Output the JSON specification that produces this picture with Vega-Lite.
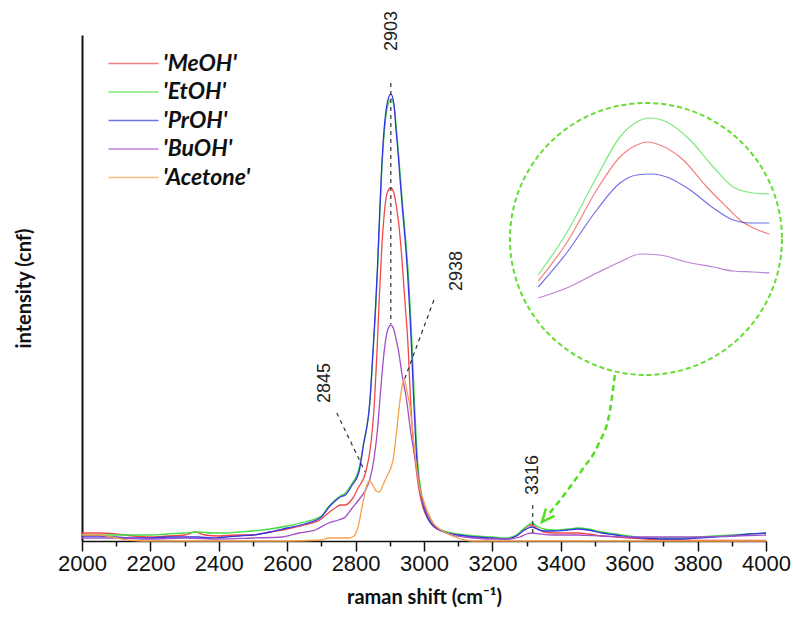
{
  "$schema": "https://vega.github.io/schema/vega-lite/v6.json",
  "width": 684,
  "height": 506,
  "autosize": {"type": "none"},
  "padding": {"left": 82, "top": 35, "right": 27, "bottom": 84},
  "background": "white",
  "config": {"view": {"stroke": null}, "font": "Liberation Sans"},
  "resolve": {"axis": {"x": "independent"}},
  "datasets": {
    "spectra": [
      {"s":"'MeOH'","x":2000,"y":8},{"s":"'MeOH'","x":2050,"y":8},{"s":"'MeOH'","x":2100,"y":7},{"s":"'MeOH'","x":2150,"y":5},{"s":"'MeOH'","x":2200,"y":4},{"s":"'MeOH'","x":2250,"y":5},{"s":"'MeOH'","x":2300,"y":6},{"s":"'MeOH'","x":2330,"y":9},{"s":"'MeOH'","x":2360,"y":6},{"s":"'MeOH'","x":2400,"y":5},{"s":"'MeOH'","x":2450,"y":6},{"s":"'MeOH'","x":2500,"y":6},{"s":"'MeOH'","x":2550,"y":9},{"s":"'MeOH'","x":2600,"y":12},{"s":"'MeOH'","x":2650,"y":16},{"s":"'MeOH'","x":2700,"y":22},{"s":"'MeOH'","x":2720,"y":28},{"s":"'MeOH'","x":2740,"y":33},{"s":"'MeOH'","x":2755,"y":36},{"s":"'MeOH'","x":2770,"y":36},{"s":"'MeOH'","x":2790,"y":42},{"s":"'MeOH'","x":2809,"y":54},{"s":"'MeOH'","x":2829,"y":68},{"s":"'MeOH'","x":2845,"y":98},{"s":"'MeOH'","x":2855,"y":138},{"s":"'MeOH'","x":2862,"y":185},{"s":"'MeOH'","x":2869,"y":241},{"s":"'MeOH'","x":2876,"y":290},{"s":"'MeOH'","x":2884,"y":328},{"s":"'MeOH'","x":2893,"y":349},{"s":"'MeOH'","x":2903,"y":353},{"s":"'MeOH'","x":2912,"y":348},{"s":"'MeOH'","x":2920,"y":333},{"s":"'MeOH'","x":2926,"y":318},{"s":"'MeOH'","x":2934,"y":288},{"s":"'MeOH'","x":2944,"y":241},{"s":"'MeOH'","x":2954,"y":191},{"s":"'MeOH'","x":2960,"y":145},{"s":"'MeOH'","x":2966,"y":112},{"s":"'MeOH'","x":2975,"y":78},{"s":"'MeOH'","x":2985,"y":52},{"s":"'MeOH'","x":2995,"y":36},{"s":"'MeOH'","x":3010,"y":23},{"s":"'MeOH'","x":3030,"y":14},{"s":"'MeOH'","x":3060,"y":9},{"s":"'MeOH'","x":3100,"y":6},{"s":"'MeOH'","x":3150,"y":4},{"s":"'MeOH'","x":3200,"y":3},{"s":"'MeOH'","x":3240,"y":2},{"s":"'MeOH'","x":3270,"y":5},{"s":"'MeOH'","x":3290,"y":11},{"s":"'MeOH'","x":3305,"y":15},{"s":"'MeOH'","x":3316,"y":16},{"s":"'MeOH'","x":3330,"y":13},{"s":"'MeOH'","x":3350,"y":9},{"s":"'MeOH'","x":3380,"y":8},{"s":"'MeOH'","x":3420,"y":8},{"s":"'MeOH'","x":3450,"y":8},{"s":"'MeOH'","x":3480,"y":7},{"s":"'MeOH'","x":3520,"y":5},{"s":"'MeOH'","x":3560,"y":4},{"s":"'MeOH'","x":3600,"y":3},{"s":"'MeOH'","x":3650,"y":2},{"s":"'MeOH'","x":3700,"y":1},{"s":"'MeOH'","x":3750,"y":1},{"s":"'MeOH'","x":3800,"y":0.5},{"s":"'MeOH'","x":3900,"y":0.5},{"s":"'MeOH'","x":4000,"y":0.5},
      {"s":"'EtOH'","x":2000,"y":6},{"s":"'EtOH'","x":2050,"y":6},{"s":"'EtOH'","x":2100,"y":6},{"s":"'EtOH'","x":2150,"y":6},{"s":"'EtOH'","x":2200,"y":6},{"s":"'EtOH'","x":2250,"y":7},{"s":"'EtOH'","x":2300,"y":8},{"s":"'EtOH'","x":2340,"y":9},{"s":"'EtOH'","x":2380,"y":8},{"s":"'EtOH'","x":2420,"y":8},{"s":"'EtOH'","x":2460,"y":9},{"s":"'EtOH'","x":2500,"y":10},{"s":"'EtOH'","x":2550,"y":12},{"s":"'EtOH'","x":2600,"y":15},{"s":"'EtOH'","x":2650,"y":19},{"s":"'EtOH'","x":2700,"y":25},{"s":"'EtOH'","x":2720,"y":34},{"s":"'EtOH'","x":2740,"y":41},{"s":"'EtOH'","x":2755,"y":45},{"s":"'EtOH'","x":2770,"y":48},{"s":"'EtOH'","x":2790,"y":58},{"s":"'EtOH'","x":2809,"y":71},{"s":"'EtOH'","x":2823,"y":97},{"s":"'EtOH'","x":2842,"y":140},{"s":"'EtOH'","x":2851,"y":188},{"s":"'EtOH'","x":2858,"y":228},{"s":"'EtOH'","x":2864,"y":270},{"s":"'EtOH'","x":2870,"y":320},{"s":"'EtOH'","x":2876,"y":366},{"s":"'EtOH'","x":2883,"y":405},{"s":"'EtOH'","x":2892,"y":432},{"s":"'EtOH'","x":2904,"y":442},{"s":"'EtOH'","x":2913,"y":434},{"s":"'EtOH'","x":2920,"y":410},{"s":"'EtOH'","x":2926,"y":385},{"s":"'EtOH'","x":2932,"y":360},{"s":"'EtOH'","x":2938,"y":335},{"s":"'EtOH'","x":2947,"y":300},{"s":"'EtOH'","x":2954,"y":268},{"s":"'EtOH'","x":2960,"y":232},{"s":"'EtOH'","x":2966,"y":190},{"s":"'EtOH'","x":2972,"y":140},{"s":"'EtOH'","x":2977,"y":105},{"s":"'EtOH'","x":2982,"y":77},{"s":"'EtOH'","x":2992,"y":49},{"s":"'EtOH'","x":3002,"y":34},{"s":"'EtOH'","x":3017,"y":21},{"s":"'EtOH'","x":3040,"y":13},{"s":"'EtOH'","x":3070,"y":9},{"s":"'EtOH'","x":3100,"y":7},{"s":"'EtOH'","x":3150,"y":5},{"s":"'EtOH'","x":3200,"y":4},{"s":"'EtOH'","x":3240,"y":3},{"s":"'EtOH'","x":3270,"y":6},{"s":"'EtOH'","x":3290,"y":12},{"s":"'EtOH'","x":3305,"y":16},{"s":"'EtOH'","x":3316,"y":18},{"s":"'EtOH'","x":3330,"y":15},{"s":"'EtOH'","x":3350,"y":12},{"s":"'EtOH'","x":3380,"y":11},{"s":"'EtOH'","x":3420,"y":12},{"s":"'EtOH'","x":3450,"y":13},{"s":"'EtOH'","x":3480,"y":12},{"s":"'EtOH'","x":3520,"y":9},{"s":"'EtOH'","x":3560,"y":7},{"s":"'EtOH'","x":3600,"y":5},{"s":"'EtOH'","x":3650,"y":3},{"s":"'EtOH'","x":3700,"y":3},{"s":"'EtOH'","x":3750,"y":3},{"s":"'EtOH'","x":3800,"y":4},{"s":"'EtOH'","x":3850,"y":5},{"s":"'EtOH'","x":3900,"y":6},{"s":"'EtOH'","x":3950,"y":7},{"s":"'EtOH'","x":4000,"y":8},
      {"s":"'PrOH'","x":2000,"y":5},{"s":"'PrOH'","x":2050,"y":5},{"s":"'PrOH'","x":2100,"y":4},{"s":"'PrOH'","x":2150,"y":3},{"s":"'PrOH'","x":2200,"y":3},{"s":"'PrOH'","x":2250,"y":4},{"s":"'PrOH'","x":2300,"y":4},{"s":"'PrOH'","x":2340,"y":4},{"s":"'PrOH'","x":2380,"y":3},{"s":"'PrOH'","x":2420,"y":4},{"s":"'PrOH'","x":2460,"y":5},{"s":"'PrOH'","x":2500,"y":6},{"s":"'PrOH'","x":2550,"y":9},{"s":"'PrOH'","x":2600,"y":13},{"s":"'PrOH'","x":2650,"y":17},{"s":"'PrOH'","x":2700,"y":24},{"s":"'PrOH'","x":2720,"y":33},{"s":"'PrOH'","x":2740,"y":40},{"s":"'PrOH'","x":2755,"y":44},{"s":"'PrOH'","x":2770,"y":46},{"s":"'PrOH'","x":2790,"y":56},{"s":"'PrOH'","x":2809,"y":68},{"s":"'PrOH'","x":2823,"y":96},{"s":"'PrOH'","x":2842,"y":141},{"s":"'PrOH'","x":2851,"y":191},{"s":"'PrOH'","x":2858,"y":232},{"s":"'PrOH'","x":2864,"y":274},{"s":"'PrOH'","x":2870,"y":325},{"s":"'PrOH'","x":2876,"y":372},{"s":"'PrOH'","x":2883,"y":410},{"s":"'PrOH'","x":2892,"y":437},{"s":"'PrOH'","x":2903,"y":447},{"s":"'PrOH'","x":2912,"y":437},{"s":"'PrOH'","x":2918,"y":412},{"s":"'PrOH'","x":2925,"y":385},{"s":"'PrOH'","x":2930,"y":362},{"s":"'PrOH'","x":2936,"y":336},{"s":"'PrOH'","x":2945,"y":300},{"s":"'PrOH'","x":2952,"y":268},{"s":"'PrOH'","x":2958,"y":232},{"s":"'PrOH'","x":2964,"y":190},{"s":"'PrOH'","x":2970,"y":140},{"s":"'PrOH'","x":2975,"y":105},{"s":"'PrOH'","x":2980,"y":76},{"s":"'PrOH'","x":2990,"y":48},{"s":"'PrOH'","x":3000,"y":33},{"s":"'PrOH'","x":3015,"y":20},{"s":"'PrOH'","x":3040,"y":12},{"s":"'PrOH'","x":3070,"y":8},{"s":"'PrOH'","x":3100,"y":6},{"s":"'PrOH'","x":3150,"y":4},{"s":"'PrOH'","x":3200,"y":3},{"s":"'PrOH'","x":3240,"y":2},{"s":"'PrOH'","x":3270,"y":5},{"s":"'PrOH'","x":3290,"y":10},{"s":"'PrOH'","x":3305,"y":13},{"s":"'PrOH'","x":3316,"y":14},{"s":"'PrOH'","x":3330,"y":12},{"s":"'PrOH'","x":3350,"y":10},{"s":"'PrOH'","x":3380,"y":10},{"s":"'PrOH'","x":3420,"y":11},{"s":"'PrOH'","x":3450,"y":12},{"s":"'PrOH'","x":3480,"y":11},{"s":"'PrOH'","x":3520,"y":8},{"s":"'PrOH'","x":3560,"y":6},{"s":"'PrOH'","x":3600,"y":4},{"s":"'PrOH'","x":3650,"y":3},{"s":"'PrOH'","x":3700,"y":2},{"s":"'PrOH'","x":3750,"y":2},{"s":"'PrOH'","x":3800,"y":3},{"s":"'PrOH'","x":3850,"y":4},{"s":"'PrOH'","x":3900,"y":5},{"s":"'PrOH'","x":3950,"y":7},{"s":"'PrOH'","x":4000,"y":8},
      {"s":"'BuOH'","x":2000,"y":3},{"s":"'BuOH'","x":2100,"y":3},{"s":"'BuOH'","x":2200,"y":2},{"s":"'BuOH'","x":2300,"y":3},{"s":"'BuOH'","x":2400,"y":2},{"s":"'BuOH'","x":2500,"y":3},{"s":"'BuOH'","x":2585,"y":4},{"s":"'BuOH'","x":2634,"y":8},{"s":"'BuOH'","x":2682,"y":11},{"s":"'BuOH'","x":2721,"y":18},{"s":"'BuOH'","x":2750,"y":21},{"s":"'BuOH'","x":2770,"y":24},{"s":"'BuOH'","x":2790,"y":33},{"s":"'BuOH'","x":2809,"y":41},{"s":"'BuOH'","x":2829,"y":51},{"s":"'BuOH'","x":2842,"y":62},{"s":"'BuOH'","x":2855,"y":85},{"s":"'BuOH'","x":2865,"y":115},{"s":"'BuOH'","x":2871,"y":141},{"s":"'BuOH'","x":2878,"y":170},{"s":"'BuOH'","x":2884,"y":191},{"s":"'BuOH'","x":2893,"y":210},{"s":"'BuOH'","x":2903,"y":216},{"s":"'BuOH'","x":2913,"y":210},{"s":"'BuOH'","x":2920,"y":199},{"s":"'BuOH'","x":2925,"y":191},{"s":"'BuOH'","x":2935,"y":168},{"s":"'BuOH'","x":2949,"y":141},{"s":"'BuOH'","x":2960,"y":112},{"s":"'BuOH'","x":2970,"y":90},{"s":"'BuOH'","x":2978,"y":74},{"s":"'BuOH'","x":2990,"y":48},{"s":"'BuOH'","x":3008,"y":28},{"s":"'BuOH'","x":3030,"y":16},{"s":"'BuOH'","x":3047,"y":11},{"s":"'BuOH'","x":3080,"y":6},{"s":"'BuOH'","x":3120,"y":4},{"s":"'BuOH'","x":3200,"y":2},{"s":"'BuOH'","x":3250,"y":2},{"s":"'BuOH'","x":3280,"y":4},{"s":"'BuOH'","x":3300,"y":7},{"s":"'BuOH'","x":3316,"y":8},{"s":"'BuOH'","x":3340,"y":7},{"s":"'BuOH'","x":3380,"y":6},{"s":"'BuOH'","x":3450,"y":6},{"s":"'BuOH'","x":3520,"y":5},{"s":"'BuOH'","x":3600,"y":4},{"s":"'BuOH'","x":3700,"y":4},{"s":"'BuOH'","x":3800,"y":4},{"s":"'BuOH'","x":3900,"y":5},{"s":"'BuOH'","x":4000,"y":6},
      {"s":"'Acetone'","x":2000,"y":6},{"s":"'Acetone'","x":2050,"y":6},{"s":"'Acetone'","x":2100,"y":3},{"s":"'Acetone'","x":2150,"y":0.5},{"s":"'Acetone'","x":2200,"y":0},{"s":"'Acetone'","x":2300,"y":0},{"s":"'Acetone'","x":2400,"y":0},{"s":"'Acetone'","x":2500,"y":0},{"s":"'Acetone'","x":2600,"y":0},{"s":"'Acetone'","x":2700,"y":1},{"s":"'Acetone'","x":2720,"y":3},{"s":"'Acetone'","x":2780,"y":3},{"s":"'Acetone'","x":2795,"y":5},{"s":"'Acetone'","x":2808,"y":15},{"s":"'Acetone'","x":2820,"y":36},{"s":"'Acetone'","x":2832,"y":55},{"s":"'Acetone'","x":2841,"y":60},{"s":"'Acetone'","x":2850,"y":56},{"s":"'Acetone'","x":2860,"y":50},{"s":"'Acetone'","x":2869,"y":49},{"s":"'Acetone'","x":2880,"y":56},{"s":"'Acetone'","x":2892,"y":65},{"s":"'Acetone'","x":2902,"y":72},{"s":"'Acetone'","x":2910,"y":82},{"s":"'Acetone'","x":2920,"y":110},{"s":"'Acetone'","x":2930,"y":141},{"s":"'Acetone'","x":2938,"y":158},{"s":"'Acetone'","x":2943,"y":161},{"s":"'Acetone'","x":2950,"y":150},{"s":"'Acetone'","x":2959,"y":134},{"s":"'Acetone'","x":2968,"y":105},{"s":"'Acetone'","x":2978,"y":74},{"s":"'Acetone'","x":2988,"y":52},{"s":"'Acetone'","x":2998,"y":41},{"s":"'Acetone'","x":3012,"y":28},{"s":"'Acetone'","x":3027,"y":18},{"s":"'Acetone'","x":3045,"y":12},{"s":"'Acetone'","x":3066,"y":8},{"s":"'Acetone'","x":3090,"y":4},{"s":"'Acetone'","x":3120,"y":1},{"s":"'Acetone'","x":3140,"y":0},{"s":"'Acetone'","x":3200,"y":0},{"s":"'Acetone'","x":3600,"y":0},{"s":"'Acetone'","x":4000,"y":0}
    ],
    "inset": [
      {"s":"'EtOH'","x":3334,"y":266},{"s":"'EtOH'","x":3417,"y":308},{"s":"'EtOH'","x":3505,"y":364},{"s":"'EtOH'","x":3573,"y":404},{"s":"'EtOH'","x":3622,"y":419},{"s":"'EtOH'","x":3661,"y":423},{"s":"'EtOH'","x":3710,"y":419},{"s":"'EtOH'","x":3778,"y":401},{"s":"'EtOH'","x":3846,"y":374},{"s":"'EtOH'","x":3904,"y":354},{"s":"'EtOH'","x":3963,"y":348},{"s":"'EtOH'","x":4010,"y":347},
      {"s":"'MeOH'","x":3334,"y":260},{"s":"'MeOH'","x":3417,"y":298},{"s":"'MeOH'","x":3505,"y":351},{"s":"'MeOH'","x":3573,"y":384},{"s":"'MeOH'","x":3622,"y":396},{"s":"'MeOH'","x":3651,"y":399},{"s":"'MeOH'","x":3690,"y":396},{"s":"'MeOH'","x":3758,"y":381},{"s":"'MeOH'","x":3827,"y":354},{"s":"'MeOH'","x":3885,"y":334},{"s":"'MeOH'","x":3924,"y":321},{"s":"'MeOH'","x":3963,"y":313},{"s":"'MeOH'","x":4010,"y":307},
      {"s":"'PrOH'","x":3334,"y":254},{"s":"'PrOH'","x":3417,"y":288},{"s":"'PrOH'","x":3505,"y":331},{"s":"'PrOH'","x":3573,"y":358},{"s":"'PrOH'","x":3622,"y":366},{"s":"'PrOH'","x":3666,"y":367},{"s":"'PrOH'","x":3710,"y":364},{"s":"'PrOH'","x":3778,"y":351},{"s":"'PrOH'","x":3846,"y":333},{"s":"'PrOH'","x":3904,"y":321},{"s":"'PrOH'","x":3953,"y":318},{"s":"'PrOH'","x":4010,"y":318},
      {"s":"'BuOH'","x":3334,"y":243},{"s":"'BuOH'","x":3417,"y":253},{"s":"'BuOH'","x":3505,"y":268},{"s":"'BuOH'","x":3573,"y":279},{"s":"'BuOH'","x":3632,"y":287},{"s":"'BuOH'","x":3690,"y":286},{"s":"'BuOH'","x":3768,"y":279},{"s":"'BuOH'","x":3846,"y":274},{"s":"'BuOH'","x":3904,"y":270},{"s":"'BuOH'","x":3963,"y":269},{"s":"'BuOH'","x":4010,"y":268}
    ],
    "rules": [
      {"x":2903,"x2":2903,"y":458,"y2":217},
      {"x":3029,"x2":2940,"y":241,"y2":159},
      {"x":2745,"x2":2828,"y":128,"y2":69},
      {"x":3318,"x2":3318,"y":36,"y2":8}
    ],
    "labels": [
      {"x":2906,"y":510,"t":"2903"},
      {"x":3096,"y":270,"t":"2938"},
      {"x":2711,"y":158,"t":"2845"},
      {"x":3319,"y":66,"t":"3316"}
    ],
    "circle": [{"x":3649,"y":302}],
    "arrow": [
      {"k":1,"x":3558,"y":166},{"k":2,"x":3544,"y":131},{"k":3,"x":3509,"y":96},{"k":4,"x":3462,"y":71},{"k":5,"x":3398,"y":41},{"k":6,"x":3360,"y":25}
    ],
    "head": [{"x":3357,"y":24}]
  },
  "layer": [
    {
      "data": {"name": "spectra"},
      "mark": {"type": "line", "strokeWidth": 1.3, "interpolate": "monotone"},
      "encoding": {
        "x": {"field": "x", "type": "quantitative",
          "scale": {"domain": [2000, 4000], "nice": false, "zero": false},
          "axis": {"title": "raman shift (cm⁻¹)", "titleFont": "Lato", "titleFontSize": 20, "titleFontWeight": "bold", "titleColor": "#111", "titlePadding": 13,
            "values": [2000,2200,2400,2600,2800,3000,3200,3400,3600,3800,4000],
            "format": "d", "labelFont": "Liberation Sans", "labelFontSize": 22, "labelColor": "#111", "labelPadding": 2,
            "labelAlign": "center", "labelSeparation": -40,
            "tickSize": 10, "tickColor": "#111", "tickWidth": 1.5, "domainColor": "#111", "domainWidth": 1.5, "grid": false}},
        "y": {"field": "y", "type": "quantitative",
          "scale": {"domain": [0, 506], "nice": false},
          "axis": {"title": "intensity (cnf)", "labels": false, "tickSize": 0, "tickOpacity": 0, "grid": false, "domainColor": "#111", "domainWidth": 2,
            "titleFont": "Lato", "titleFontSize": 20, "titleFontWeight": "bold", "titleColor": "#111", "titlePadding": 48}},
        "color": {"field": "s", "type": "nominal",
          "scale": {"domain": ["'MeOH'","'EtOH'","'PrOH'","'BuOH'","'Acetone'"], "range": ["#f04848","#44dd44","#3434e0","#a050c8","#f5a04a"]},
          "legend": {"orient": "none", "legendX": 40, "legendY": 17, "title": null, "padding": 0,
            "symbolType": "M-2.5,0H2.5", "symbolSize": 400, "symbolStrokeWidth": 1.5,
            "labelFont": "Lato", "labelFontSize": 23, "labelFontStyle": "italic", "labelFontWeight": "bold", "labelColor": "#111",
            "labelOffset": 18, "rowPadding": 4.5}}
      }
    },
    {
      "data": {"name": "inset"},
      "mark": {"type": "line", "strokeWidth": 1.2, "interpolate": "monotone", "opacity": 0.7},
      "encoding": {
        "x": {"field": "x", "type": "quantitative",
          "axis": {"orient": "bottom", "title": null, "values": [2100,2300,2500,2700,2900,3100,3300,3500,3700,3900], "labels": false, "domain": false, "grid": false, "tickSize": 5, "tickColor": "#111", "tickWidth": 1.5}},
        "y": {"field": "y", "type": "quantitative"},
        "color": {"field": "s", "type": "nominal"}
      }
    },
    {
      "data": {"name": "circle"},
      "mark": {"type": "point", "shape": "circle", "filled": false, "size": 73984, "stroke": "#66dd33", "strokeWidth": 2, "strokeDash": [5, 3], "opacity": 1},
      "encoding": {
        "x": {"field": "x", "type": "quantitative", "axis": null},
        "y": {"field": "y", "type": "quantitative"}
      }
    },
    {
      "data": {"name": "arrow"},
      "mark": {"type": "line", "stroke": "#55dd22", "strokeWidth": 2.5, "strokeDash": [6, 4], "interpolate": "monotone"},
      "encoding": {
        "x": {"field": "x", "type": "quantitative", "axis": null},
        "y": {"field": "y", "type": "quantitative"},
        "order": {"field": "k"}
      }
    },
    {
      "data": {"name": "head"},
      "mark": {"type": "point", "shape": "M-0.8,0.9L0,-0.9L0.8,0.9", "filled": false, "size": 196, "stroke": "#55dd22", "strokeWidth": 2.5, "angle": 220, "opacity": 1},
      "encoding": {
        "x": {"field": "x", "type": "quantitative", "axis": null},
        "y": {"field": "y", "type": "quantitative"}
      }
    },
    {
      "data": {"name": "rules"},
      "mark": {"type": "rule", "color": "#333", "strokeWidth": 1.2, "strokeDash": [4, 4]},
      "encoding": {
        "x": {"field": "x", "type": "quantitative", "axis": null},
        "x2": {"field": "x2"},
        "y": {"field": "y", "type": "quantitative"},
        "y2": {"field": "y2"}
      }
    },
    {
      "data": {"name": "labels"},
      "mark": {"type": "text", "angle": 270, "align": "center", "baseline": "middle", "font": "Liberation Sans", "fontSize": 18, "color": "#222"},
      "encoding": {
        "x": {"field": "x", "type": "quantitative", "axis": null},
        "y": {"field": "y", "type": "quantitative"},
        "text": {"field": "t"}
      }
    }
  ]
}
